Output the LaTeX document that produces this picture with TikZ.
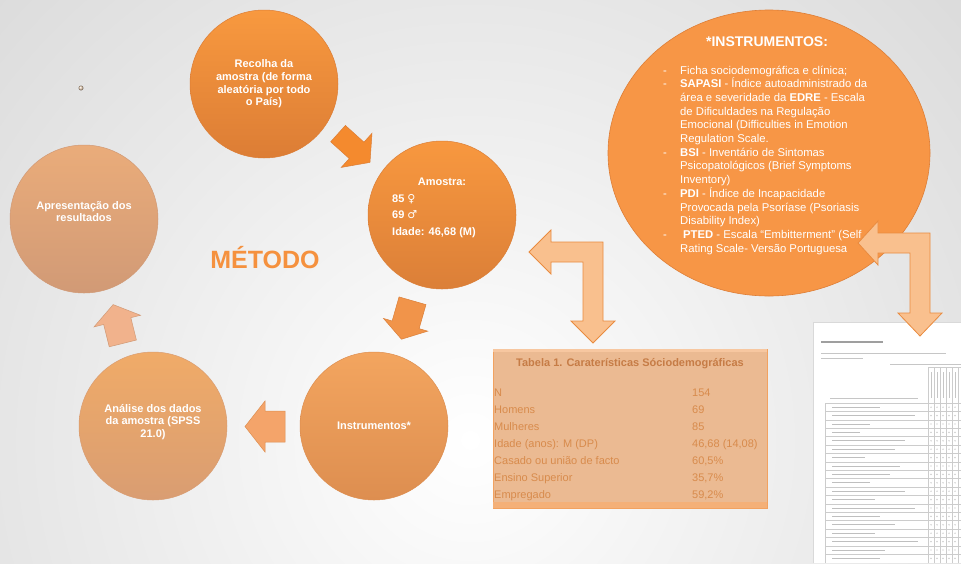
\documentclass[tikz,border=0pt]{standalone}
\usepackage{fontspec}
\setmainfont{Liberation Sans}
\newfontfamily\symfont{DejaVu Sans}
\usetikzlibrary{shapes.geometric}
\definecolor{metodo}{HTML}{F5913E}
\definecolor{recT}{HTML}{F8993F}\definecolor{recB}{HTML}{DC7D35}
\definecolor{amoT}{HTML}{F8983F}\definecolor{amoB}{HTML}{DB7F38}
\definecolor{insT}{HTML}{F3A55F}\definecolor{insB}{HTML}{DD8E50}
\definecolor{anaT}{HTML}{F0AB68}\definecolor{anaB}{HTML}{D99D72}
\definecolor{apreT}{HTML}{EAAC7A}\definecolor{apreB}{HTML}{D19A76}
\definecolor{ellfill}{HTML}{F79646}\definecolor{elldraw}{HTML}{DE7E36}
\definecolor{peach}{HTML}{F9C08E}\definecolor{peachD}{HTML}{E98B3F}
\definecolor{tabfill}{HTML}{EBBA92}\definecolor{tabborder}{HTML}{F2A260}
\definecolor{tabtxt}{HTML}{D88B4C}\definecolor{tabtitle}{HTML}{C67C46}
\definecolor{arA}{HTML}{F48A2E}\definecolor{arB}{HTML}{F1944A}
\definecolor{arC}{HTML}{F4A46A}\definecolor{arD}{HTML}{F1B28C}
\tikzset{
  pics/barrow/.style args={#1/#2/#3/#4}{code={
    \path[pic actions] ({-#1/2},{-#2/2}) -- ({#1/2-#4},{-#2/2}) -- ({#1/2-#4},{-#3/2})
      -- ({#1/2},0) -- ({#1/2-#4},{#3/2}) -- ({#1/2-#4},{#2/2}) -- ({-#1/2},{#2/2}) -- cycle;
  }},
  stage/.style={circle, minimum size=148pt, inner sep=0pt, text=white,
    font=\bfseries\fontsize{11}{12.6}\selectfont, align=center, line width=0.5pt},
  ctext/.style={text=white, font=\bfseries\fontsize{11}{12.6}\selectfont, align=center, inner sep=0pt},
  itxt/.style={anchor=base west, text=white, font=\fontsize{11.3}{13}\selectfont, inner sep=0pt},
  rowtxt/.style={anchor=base west, text=tabtxt, font=\fontsize{11}{13}\selectfont, inner sep=0pt},
  bent/.style={fill=peach, draw=peachD, line width=0.8pt, line join=miter},
  blk/.style={line width=0.5pt, line join=miter},
}
\begin{document}
\begin{tikzpicture}[x=1pt,y=1pt]
\useasboundingbox (0,0) rectangle (961,-563);
\begin{scope}
  \clip (0,0) rectangle (961,-563);
  \shade[inner color=white, outer color=gray!55] (470,-440) circle (1300);
\end{scope}

% small dot
\shade[ball color=brown!40] (81,-88) circle (2.5);

% cycle circles
\node[stage, top color=recT, bottom color=recB, draw=recB] (rec) at (264,-84)
  {Recolha da\\amostra (de forma\\aleatória por todo\\o País)};
\node[stage, top color=amoT, bottom color=amoB, draw=amoB] (amo) at (442,-215) {};
\node[stage, top color=insT, bottom color=insB, draw=insB] (ins) at (374,-426) {Instrumentos*};
\node[stage, top color=anaT, bottom color=anaB, draw=anaB] (ana) at (153,-426) {};
\node[stage, top color=apreT, bottom color=apreB, draw=apreB] (apre) at (84,-219) {};

\node[ctext] (anatxt) at (153,-422) {Análise dos dados\\da amostra (SPSS\\21.0)};
\node[ctext] (apretxt) at (84,-211.5) {Apresentação dos\\resultados};
\node[ctext, anchor=base] (amot) at (442,-185) {Amostra:};
\node[ctext, anchor=base west] (amo1) at (392,-202) {85 {\symfont\mdseries ♀}};
\node[ctext, anchor=base west] (amo2) at (392,-218) {69 {\symfont\mdseries ♂}};
\node[ctext, anchor=base west] (amo3) at (392,-235) {Idade: 46,68 (M)};

% block arrows of the cycle
\pic[fill=arA, draw=recB, blk, rotate=-42] (a1) at (354,-148) {barrow={43/22/46/18}};
\pic[fill=arB, draw=amoB, blk, rotate=-106] (a2) at (407,-320) {barrow={40/28/46/15}};
\pic[fill=arC, draw=insB, blk, rotate=180] (a3) at (265,-426.5) {barrow={40/31/51/20}};
\pic[fill=arD, draw=apreB, blk, rotate=104] (a4) at (118,-324) {barrow={40/28/48/17}};

% METODO
\node[anchor=base, text=metodo, font=\bfseries\fontsize{25}{25}\selectfont, inner sep=0pt] (met) at (265,-268) {MÉTODO};

% instruments ellipse
\node[ellipse, minimum width=322pt, minimum height=286pt, fill=ellfill, draw=elldraw, line width=0.6pt] (instr) at (769,-153) {};
\node[anchor=base, text=white, font=\bfseries\fontsize{14}{14}\selectfont, inner sep=0pt] (ititle) at (767,-46) {*INSTRUMENTOS:};
\foreach \n/\y in {1/74,2/87.7,7/156.2,10/197.3,13/238.4}
  \node[itxt] (dash\n) at (663,-\y) {-};
\node[itxt] (l1) at (680,-74) {Ficha sociodemográfica e clínica;};
\node[itxt] (l2) at (680,-87.7) {\textbf{SAPASI} - Índice autoadministrado da};
\node[itxt] (l3) at (680,-101.4) {área e severidade da \textbf{EDRE} - Escala};
\node[itxt] (l4) at (680,-115.1) {de Dificuldades na Regulação};
\node[itxt] (l5) at (680,-128.8) {Emocional (Difficulties in Emotion};
\node[itxt] (l6) at (680,-142.5) {Regulation Scale.};
\node[itxt] (l7) at (680,-156.2) {\textbf{BSI} - Inventário de Sintomas};
\node[itxt] (l8) at (680,-169.9) {Psicopatológicos (Brief Symptoms};
\node[itxt] (l9) at (680,-183.6) {Inventory)};
\node[itxt] (l10) at (680,-197.3) {\textbf{PDI} - Índice de Incapacidade};
\node[itxt] (l11) at (680,-211) {Provocada pela Psoríase (Psoriasis};
\node[itxt] (l12) at (680,-224.7) {Disability Index)};
\node[itxt] (l13) at (683,-238.4) {\textbf{PTED} - Escala “Embitterment” (Self};
\node[itxt] (l14) at (680,-252.1) {Rating Scale- Versão Portuguesa};

% table
\node[anchor=north west, minimum width=274pt, minimum height=159pt, inner sep=0pt,
  fill=tabfill, draw=tabborder, line width=0.8pt] (tab) at (493,-349) {};
\fill[tabborder!85] (493.4,-502) rectangle (766.6,-507.6);
\fill[tabborder!60] (493.4,-349.4) rectangle (766.6,-352);
\node[anchor=base, text=tabtitle, font=\bfseries\fontsize{11}{11}\selectfont, inner sep=0pt] (ttitle) at (630,-366)
  {Tabela 1. Caraterísticas Sóciodemográficas};
\foreach \i/\lab/\val in {0/N/154, 1/Homens/69, 2/Mulheres/85, 3/Idade (anos): M (DP)/{46,68 (14,08)},
  4/Casado ou união de facto/{60,5\%}, 5/Ensino Superior/{35,7\%}, 6/Empregado/{59,2\%}}{
  \node[rowtxt] (rl\i) at (494,{-396-17*\i}) {\lab};
  \node[rowtxt] (rv\i) at (692,{-396-17*\i}) {\val};
}

% document page (scale sheet)
\fill[white] (813,-322) rectangle (961,-563);
\draw[gray!30, line width=0.3pt] (813,-563) -- (813,-322) -- (961,-322);
\draw[gray!75, line width=1.6pt] (821,-342) -- (883,-342);
\draw[gray!45, line width=0.9pt] (821,-353) -- (946,-353);
\draw[gray!45, line width=0.9pt] (821,-358) -- (863,-358);
\draw[gray!45, line width=0.9pt] (890,-364) -- (961,-364);
\draw[gray!45, line width=0.9pt] (830,-398) -- (918,-398);
\draw[gray!40, line width=0.3pt] (928,-367) -- (961,-367);
\foreach \x in {928,934,940,946,952,958}
  \draw[gray!40, line width=0.3pt] (\x,-367) -- (\x,-563);
\foreach \x in {931,937,943,949,955}
  \draw[gray!45, line width=0.8pt] (\x,-372) -- (\x,-398);
\draw[gray!40, line width=0.3pt] (825,-403) -- (825,-563);
\foreach \i/\e in {0/880,1/915,2/870,3/860,4/905,5/895,6/865,7/900,8/890,9/870,10/905,11/875,12/915,13/880,14/895,15/875,16/918,17/885,18/880}{
  \draw[gray!40, line width=0.3pt] (825,{-403-8.4*\i}) -- (961,{-403-8.4*\i});
  \draw[gray!50, line width=0.8pt] (832,{-407.2-8.4*\i}) -- (\e,{-407.2-8.4*\i});
  \foreach \x in {931,937,943,949,955}
    \fill[gray!55] (\x,{-407.2-8.4*\i}) circle (0.7);
}

% bent double arrows
\draw[bent] (529,-252) -- (551,-230) -- (551,-242) -- (603,-242) -- (603,-321) -- (615,-321)
  -- (593,-343) -- (571,-321) -- (583,-321) -- (583,-262) -- (551,-262) -- (551,-274) -- cycle;
\draw[bent] (858,-243) -- (878,-221) -- (878,-233) -- (930,-233) -- (930,-313) -- (942,-313)
  -- (920,-336) -- (898,-313) -- (910,-313) -- (910,-253) -- (878,-253) -- (878,-265) -- cycle;
\end{tikzpicture}
\end{document}
